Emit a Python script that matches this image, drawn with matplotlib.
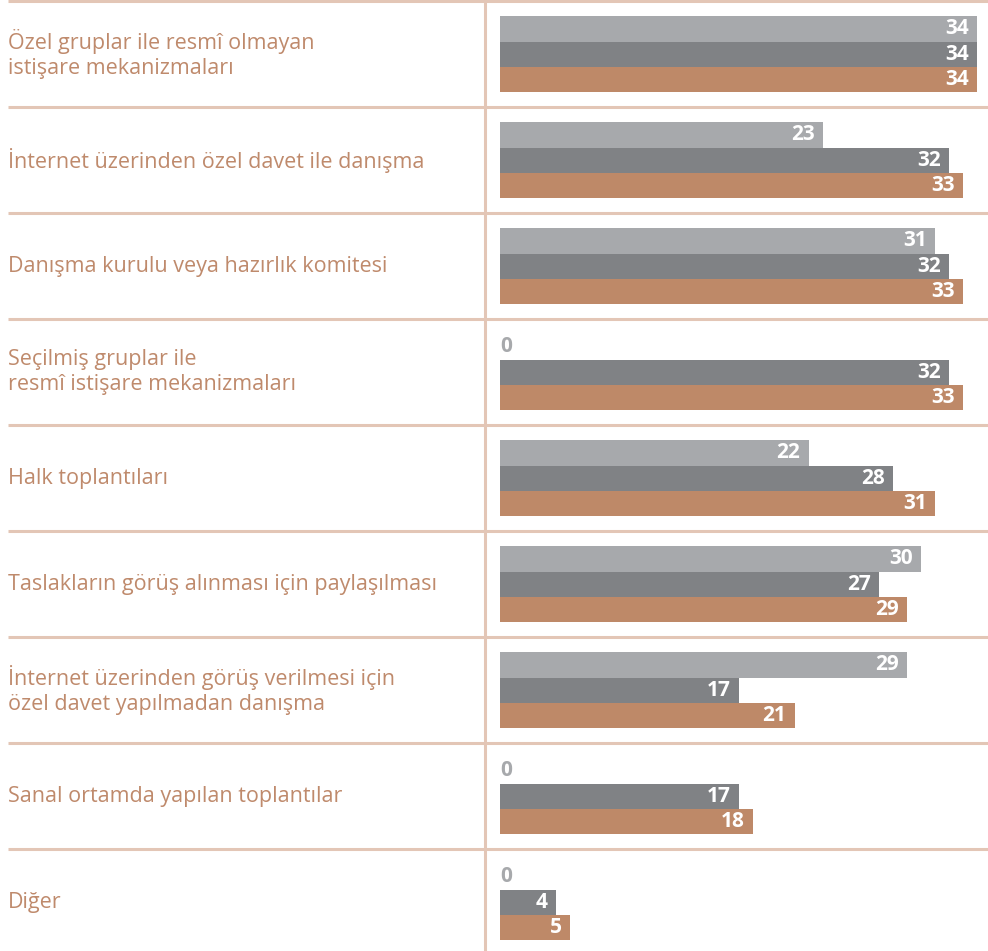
import matplotlib.pyplot as plt

plt.rcParams['font.family'] = ['Open Sans', 'DejaVu Sans']

kategoriler = [
    "Özel gruplar ile resmî olmayan\nistişare mekanizmaları",
    "İnternet üzerinden özel davet ile danışma",
    "Danışma kurulu veya hazırlık komitesi",
    "Seçilmiş gruplar ile\nresmî istişare mekanizmaları",
    "Halk toplantıları",
    "Taslakların görüş alınması için paylaşılması",
    "İnternet üzerinden görüş verilmesi için\nözel davet yapılmadan danışma",
    "Sanal ortamda yapılan toplantılar",
    "Diğer",
]
seri_acik = [34, 23, 31, 0, 22, 30, 29, 0, 0]
seri_koyu = [34, 32, 32, 32, 28, 27, 17, 17, 4]
seri_kahve = [34, 33, 33, 33, 31, 29, 21, 18, 5]

renkler = ['#a7a9ac', '#808285', '#be8968']
cizgi_renk = '#e3c6b6'
yazi_renk = '#bf8a6c'

W, H = 988, 951
fig = plt.figure(figsize=(W / 100, H / 100), dpi=100)

# y ekseni: her satir 1 birim (106 px), ust kenar -0.012
y_ust = -0.012
y_alt = H / 106 + y_ust

# arka plan: cizgiler ve kategori etiketleri
bg = fig.add_axes([0, 0, 1, 1])
bg.set_xlim(0, 1)
bg.set_ylim(y_alt, y_ust)
bg.axis('off')
n = len(kategoriler)
bg.hlines(range(n), 8 / W, 1, color=cizgi_renk, lw=2.2)
bg.vlines(485 / W, y_ust, y_alt, color=cizgi_renk, lw=2.2)
for i, k in enumerate(kategoriler):
    bg.text(8 / W, i + 0.5, k, ha='left', va='center', color=yazi_renk,
            fontsize=15.5, linespacing=1.25)

# cubuklar
ax = fig.add_axes([500 / W, 0, (W - 500) / W, 1])
ax.set_xlim(0, (W - 500) / 14.03)
ax.set_ylim(y_alt, y_ust)
ax.axis('off')
ax.patch.set_alpha(0)

h = 0.24
seriler = [seri_acik, seri_koyu, seri_kahve]
for j, (seri, renk) in enumerate(zip(seriler, renkler)):
    ys = [i + 0.5 + (j - 1) * h for i in range(n)]
    ax.barh(ys, seri, height=h, color=renk, linewidth=0)
    for y, v in zip(ys, seri):
        if v == 0:
            ax.annotate(str(v), (0, y), xytext=(0, 0), textcoords='offset points',
                        ha='left', va='center', color=renkler[0],
                        fontsize=15, fontweight='bold')
        else:
            ax.annotate(str(v), (v, y), xytext=(-6, 0), textcoords='offset points',
                        ha='right', va='center', color='white',
                        fontsize=15, fontweight='bold')

fig.savefig('out.png', dpi=100)
